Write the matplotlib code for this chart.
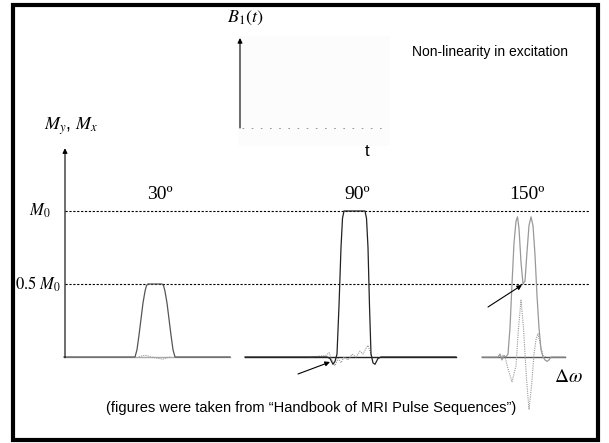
import matplotlib
matplotlib.use("Agg")
import matplotlib.pyplot as plt
from matplotlib.patches import Rectangle
from matplotlib.transforms import Affine2D

plt.rcParams["mathtext.fontset"] = "stix"
plt.rcParams["font.family"] = ["Liberation Sans", "DejaVu Sans"]

# --- Data (M in units of M0, dw relative to pulse centre) ---
flip_angles = ["30º", "90º", "150º"]
level_values = [1.0, 0.5]
level_labels = [r"$M_0$", r"$0.5\ M_0$"]

# 30 deg pulse
dw_30 = [-91, -20, -18, -16, -14, -12, -10, -8.5, -7, 7, 8.5, 10, 12, 14, 16, 18, 20, 75]
my_30 = [0, 0, 0.05, 0.15, 0.26, 0.37, 0.45, 0.49, 0.5, 0.5, 0.49, 0.45, 0.37, 0.26, 0.15, 0.05, 0, 0]
dwx_30 = [-16, -12, -8, -4, 0, 4, 8, 12, 16]
mx_30 = [0, 0.01, 0.01, 0.0, -0.005, -0.01, -0.015, -0.005, 0]

# 90 deg pulse
dw_90 = [-109, -27, -24, -21, -19, -17, -15, -13, -11.5, -10, 11, 12.5, 14, 15.5, 17, 19, 21, 24, 27, 102]
my_90 = [0, 0, -0.01, -0.05, -0.03, 0.02, 0.35, 0.75, 0.95, 1.0, 1.0, 0.95, 0.75, 0.35, 0.02, -0.04, -0.05, -0.01, 0, 0]
dwx_90 = [-44, -36, -28, -25, -22, -19, -16, -13, -10, -6, -2, 2, 6, 9, 12, 14, 16, 18]
mx_90 = [0, 0.005, 0.01, 0.03, -0.02, -0.06, -0.01, -0.04, 0.0, -0.02, 0.02, 0.0, 0.04, 0.02, 0.06, 0.08, 0.04, 0]

# 150 deg pulse
dw_150 = [-42, -26, -24, -22, -20, -18, -16, -14, -12, -10, -8, -6.5, -5, -3, -1, 1, 3, 5, 7, 9, 11, 13, 15, 17, 19, 21, 23, 25, 27, 41]
my_150 = [0, 0, 0.02, -0.02, 0.01, 0.0, 0.02, 0.2, 0.5, 0.78, 0.93, 0.96, 0.88, 0.65, 0.5, 0.52, 0.72, 0.9, 0.96, 0.9, 0.7, 0.42, 0.2, 0.05, 0.0, -0.02, -0.03, -0.02, 0, 0]
dwx_150 = [-26, -22, -19, -16, -12, -8, -5.5, -3, -0.5, 2.5, 5, 7.5, 10, 12, 14, 16.5, 19, 22]
mx_150 = [0, 0.01, 0, -0.08, -0.17, -0.06, 0.2, 0.39, 0.2, -0.15, -0.36, -0.2, 0.02, 0.12, 0.16, 0.08, 0.01, 0]

panels = [
    (dw_30, my_30, dwx_30, mx_30),
    (dw_90, my_90, dwx_90, mx_90),
    (dw_150, my_150, dwx_150, mx_150),
]

# --- Layout (pixels) ---
W, H = 609, 443
BASE_Y = 357          # pixel row of M = 0
M0_PX = 146           # pixels per M0
centres = [155, 354, 524]
solid_colors = ["#555555", "#222222", "#999999"]
base_colors = ["#aaaaaa", "#222222", "#555555"]
arrow_kw = dict(arrowstyle="-|>", lw=0.8, color="black", mutation_scale=7,
                shrinkA=0, shrinkB=0)

fig = plt.figure(figsize=(W / 100, H / 100), dpi=100)
ax = fig.add_axes([0, 0, 1, 1])
ax.set_xlim(0, W)
ax.set_ylim(H, 0)
ax.axis("off")

# transform: x in pixels, y in units of M0
sig = Affine2D().scale(1, -M0_PX).translate(0, BASE_Y) + ax.transData

# outer frame
ax.add_patch(Rectangle((13, 5), 585, 435, fill=False, lw=3, ec="black"))

# reference levels
for v, lab in zip(level_values, level_labels):
    ax.plot([65, 590], [v, v], transform=sig, color="black", lw=0.8,
            dashes=(2, 1.5))
    ax.text(61 if v < 1 else 51, v, lab, transform=sig, ha="right",
            va="center", fontsize=12)

# M axis
ax.annotate("", xy=(65, 1.43), xytext=(65, -0.005), xycoords=sig,
            textcoords=sig, arrowprops=arrow_kw)
ax.text(71, 126, r"$M_y$, $M_x$", ha="center", va="center", fontsize=13)

# pulses
for i, (dw, my, dwx, mx) in enumerate(panels):
    t = Affine2D().translate(centres[i], 0) + sig
    ax.plot([dw[0], dw[-1]], [0, 0], transform=t, color=base_colors[i], lw=1)
    ax.plot(dwx, mx, transform=t, color="#999999", lw=0.8, ls=(0, (1, 1)))
    ax.plot(dw, my, transform=t, color=solid_colors[i], lw=0.9)
    ax.text(centres[i] + (5 if i == 0 else 3), 194, flip_angles[i],
            ha="center", va="center", fontsize=14, family="Liberation Serif")

# arrows pointing at Mx wiggle and 150 deg valley
ax.annotate("", xy=(330, 362), xytext=(298, 374), arrowprops=arrow_kw)
ax.annotate("", xy=(522, 285), xytext=(488, 307), arrowprops=arrow_kw)
ax.text(568, 377, r"$\mathit{\Delta}\omega$", ha="center", va="center",
        fontsize=14)

# B1(t) inset
ax.add_patch(Rectangle((238, 36), 152, 110, fc="#fcfcfc", ec="none", zorder=0))
ax.annotate("", xy=(240, 38), xytext=(240, 128), arrowprops=arrow_kw)
ax.plot([242, 386], [128, 128], color="#888888", lw=0.6, dashes=(2, 9))
ax.text(245, 18, r"$B_1(t)$", ha="center", va="center", fontsize=13)
ax.text(367, 152, "t", ha="center", va="center", fontsize=12)

ax.text(490, 52, "Non-linearity in excitation", ha="center", va="center",
        fontsize=10)
ax.text(311, 408, "(figures were taken from \u201cHandbook of MRI Pulse Sequences\u201d)",
        ha="center", va="center", fontsize=10.5)

fig.savefig("out.png", dpi=100)
